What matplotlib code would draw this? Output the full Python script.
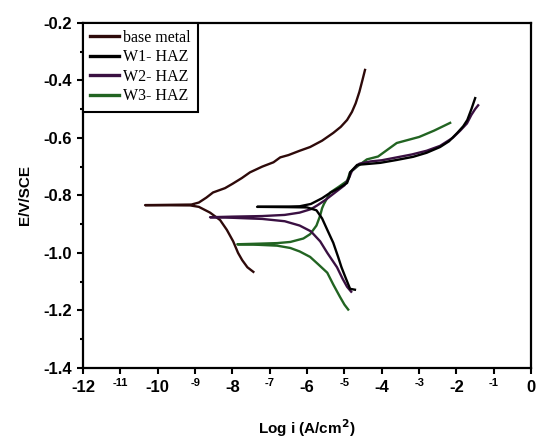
import matplotlib
matplotlib.use("Agg")
import matplotlib.pyplot as plt

# ---- data (log i, E) ----
bm_log_i = [-7.44, -7.6, -7.74, -7.85, -7.98, -8.15, -8.33, -8.6, -8.9, -9.13, -10.34,
            -9.1, -8.9, -8.7, -8.52, -8.2, -8.0, -7.75, -7.53, -7.2, -6.9, -6.72, -6.5,
            -6.2, -5.92, -5.6, -5.3, -5.1, -4.93, -4.8, -4.7, -4.6, -4.52, -4.45]
bm_E = [-1.066, -1.05, -1.025, -1.0, -0.96, -0.92, -0.886, -0.86, -0.84, -0.835, -0.834,
        -0.832, -0.825, -0.808, -0.79, -0.775, -0.76, -0.74, -0.72, -0.70, -0.685, -0.668, -0.66,
        -0.645, -0.632, -0.61, -0.583, -0.562, -0.538, -0.51, -0.48, -0.44, -0.40, -0.364]

w1_log_i = [-4.72, -4.85, -4.98, -5.08, -5.17, -5.3, -5.46, -5.6, -5.75, -6.0, -6.5, -7.34,
            -6.5, -6.2, -5.9, -5.6, -5.38, -5.15, -4.93, -4.87, -4.85, -4.66, -4.3, -4.04,
            -3.6, -3.16, -2.8, -2.44, -2.2, -1.98, -1.82, -1.71, -1.6, -1.5]
w1_E = [-1.128, -1.125, -1.083, -1.05, -1.014, -0.965, -0.92, -0.88, -0.852, -0.842, -0.841, -0.84,
        -0.839, -0.838, -0.83, -0.81, -0.791, -0.775, -0.757, -0.735, -0.72, -0.694, -0.69, -0.687,
        -0.677, -0.666, -0.652, -0.632, -0.612, -0.583, -0.56, -0.538, -0.5, -0.462]

w2_log_i = [-4.82, -4.93, -5.05, -5.2, -5.46, -5.65, -5.9, -6.2, -6.6, -7.2, -8.0, -8.6,
            -8.0, -7.2, -6.6, -6.2, -5.9, -5.73, -5.5, -5.3, -5.0, -4.88, -4.8, -4.6, -4.3,
            -4.0, -3.6, -3.2, -2.8, -2.44, -2.1, -1.9, -1.72, -1.6, -1.5, -1.42]
w2_E = [-1.135, -1.118, -1.09, -1.05, -1.0, -0.96, -0.925, -0.905, -0.89, -0.882, -0.878, -0.876,
        -0.874, -0.872, -0.868, -0.86, -0.848, -0.835, -0.815, -0.795, -0.765, -0.74, -0.715, -0.69, -0.682,
        -0.678, -0.668, -0.658, -0.645, -0.628, -0.60, -0.575, -0.55, -0.52, -0.5, -0.487]

w3_log_i = [-4.9, -5.0, -5.12, -5.3, -5.46, -5.7, -5.92, -6.2, -6.45, -6.8, -7.3, -7.87,
            -7.3, -6.8, -6.45, -6.1, -5.92, -5.75, -5.65, -5.6, -5.55, -5.38, -5.15, -4.93,
            -4.85, -4.66, -4.4, -4.1, -3.6, -3.0, -2.6, -2.17]
w3_E = [-1.197, -1.18, -1.153, -1.11, -1.069, -1.04, -1.014, -0.995, -0.983, -0.975, -0.972, -0.97,
        -0.968, -0.966, -0.962, -0.95, -0.935, -0.905, -0.87, -0.845, -0.83, -0.79, -0.77, -0.75,
        -0.72, -0.70, -0.675, -0.665, -0.618, -0.597, -0.575, -0.548]

labels = ["base metal", "W1- HAZ", "W2- HAZ", "W3- HAZ"]
colors = ["#2e0a0a", "#000000", "#3a1042", "#226422"]

x_major = [-12, -10, -8, -6, -4, -2, 0]
x_minor = [-11, -9, -7, -5, -3, -1]
y_major = [-1.4, -1.2, -1.0, -0.8, -0.6, -0.4, -0.2]

plt.rcParams["font.family"] = ["Liberation Sans", "DejaVu Sans"]

fig = plt.figure(figsize=(5.36, 4.46), dpi=100)
ax = fig.add_axes([0.155, 0.175, 0.836, 0.774])

series = [(bm_log_i, bm_E), (w1_log_i, w1_E), (w2_log_i, w2_E), (w3_log_i, w3_E)]
zorders = [2, 5, 4, 3]
for (xs, ys), lab, c, z in zip(series, labels, colors, zorders):
    ax.plot(xs, ys, color=c, lw=1.7, label=lab, zorder=z)

ax.set_xlim(-12, 0)
ax.set_ylim(-1.4, -0.2)

ax.set_xticks(x_major, [str(v) for v in x_major])
ax.set_xticks(x_minor, [str(v) for v in x_minor], minor=True)
ax.set_yticks(y_major, [f"{v:.1f}" for v in y_major])
ax.set_yticks([-1.3, -1.1, -0.9, -0.7, -0.5, -0.3], minor=True)

ax.tick_params(axis="x", which="major", direction="out", length=4, width=1.5,
               labelsize=12, pad=5)
ax.tick_params(axis="x", which="minor", direction="out", length=4, width=1.5,
               labelsize=8, pad=3)
ax.tick_params(axis="y", which="major", direction="out", length=4, width=1.5,
               labelsize=12, pad=4)
ax.tick_params(axis="y", which="minor", direction="out", length=2, width=1.5)
for t in ax.get_xticklabels(which="both") + ax.get_yticklabels():
    t.set_fontweight("bold")

for s in ax.spines.values():
    s.set_linewidth(1.6)

ax.set_xlabel("Log i (A/cm$^\\mathbf{2}$)", fontsize=11, fontweight="bold", labelpad=16)
ax.set_ylabel("E/V/SCE", fontsize=11, fontweight="bold", labelpad=8)

leg = ax.legend(loc="upper left", borderaxespad=0, fancybox=False, framealpha=1,
                edgecolor="black", handlelength=1.8, handletextpad=0.25,
                labelspacing=0.22, borderpad=0.45,
                prop={"family": "Liberation Serif", "size": 11.5})
leg.get_frame().set_linewidth(1.5)
for h in leg.get_lines():
    h.set_linewidth(2.4)

fig.savefig("out.png", dpi=100)
